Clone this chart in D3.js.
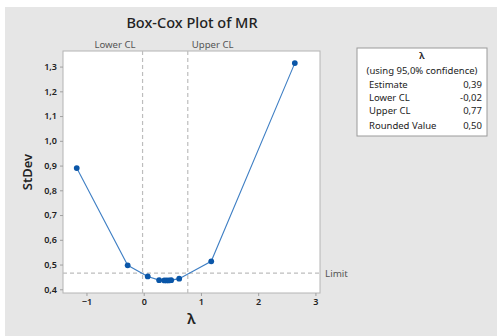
<!DOCTYPE html>
<html>
<head>
<meta charset="utf-8">
<script src="https://cdn.jsdelivr.net/npm/d3@7"></script>
<style>
  body { margin: 0; background: #fff; }
  svg { display: block; font-family: "Noto Sans", "Open Sans", sans-serif; }
</style>
</head>
<body>
<script>
// lambda values tried and the StDev of the transformed data
const lambdas = [-1.17, -0.28, 0.07, 0.27, 0.36, 0.40, 0.44, 0.48, 0.62, 1.18, 2.64];
const stdevs  = [0.890, 0.497, 0.452, 0.437, 0.436, 0.436, 0.436, 0.437, 0.443, 0.513, 1.314];
const lowerCL = -0.02;
const upperCL = 0.77;
const limitValue = 0.465;
const xTicks = [-1, 0, 1, 2, 3];
const yTicks = [0.4, 0.5, 0.6, 0.7, 0.8, 0.9, 1.0, 1.1, 1.2, 1.3];
const tableRows = [
  ["Estimate", "0,39"],
  ["Lower CL", "-0,02"],
  ["Upper CL", "0,77"],
  ["Rounded Value", "0,50"]
];

const w = 497, h = 336;
const plot = {left: 63, top: 51, right: 320, bottom: 293};

const loc = d3.formatLocale({decimal: ",", thousands: ".", grouping: [3], currency: ["", ""]});
const fmt1 = loc.format(".1f");

const svg = d3.select("body").append("svg")
  .attr("width", w).attr("height", h);

// grey frame
svg.append("rect")
  .attr("x", 5).attr("y", 7)
  .attr("width", w - 5).attr("height", h - 7)
  .attr("fill", "#e6e6e6");

svg.append("text")
  .attr("x", 192).attr("y", 28)
  .attr("text-anchor", "middle")
  .attr("font-size", 14.5).attr("font-weight", 500)
  .attr("fill", "#222")
  .text("Box-Cox Plot of MR");

const x = d3.scaleLinear().domain([-1.41, 3.08]).range([plot.left, plot.right]);
const y = d3.scaleLinear().domain([0.385, 1.363]).range([plot.bottom, plot.top]);

svg.append("rect")
  .attr("x", plot.left).attr("y", plot.top)
  .attr("width", plot.right - plot.left).attr("height", plot.bottom - plot.top)
  .attr("fill", "#fff")
  .attr("stroke", "#b4b4b4");

const xAxis = svg.append("g")
  .attr("transform", "translate(0," + plot.bottom + ")")
  .call(d3.axisBottom(x).tickValues(xTicks).tickSize(3).tickPadding(3).tickFormat(d3.format("d")));
const yAxis = svg.append("g")
  .attr("transform", "translate(" + plot.left + ",0)")
  .call(d3.axisLeft(y).tickValues(yTicks).tickSize(3).tickPadding(3).tickFormat(fmt1));

[xAxis, yAxis].forEach(g => {
  g.select(".domain").remove();
  g.selectAll("line").attr("stroke", "#a0a0a0");
  g.selectAll("text").attr("font-size", 9).attr("fill", "#222")
    .attr("font-family", "Noto Sans").attr("font-weight", 600);
});

// confidence limits and limit line
const dashed = "4,3";
[lowerCL, upperCL].forEach(v => {
  svg.append("line")
    .attr("x1", x(v)).attr("x2", x(v))
    .attr("y1", plot.top).attr("y2", plot.bottom)
    .attr("stroke", "#bdbdbd").attr("stroke-width", 1.2)
    .attr("stroke-dasharray", dashed);
});
svg.append("line")
  .attr("x1", plot.left).attr("x2", plot.right)
  .attr("y1", y(limitValue)).attr("y2", y(limitValue))
  .attr("stroke", "#bdbdbd").attr("stroke-width", 1.2)
  .attr("stroke-dasharray", dashed);

svg.append("text")
  .attr("x", x(lowerCL) - 7).attr("y", 48)
  .attr("text-anchor", "end").attr("font-size", 9.6).attr("fill", "#555")
  .text("Lower CL");
svg.append("text")
  .attr("x", x(upperCL) + 4).attr("y", 48)
  .attr("text-anchor", "start").attr("font-size", 9.6).attr("fill", "#555")
  .text("Upper CL");
svg.append("text")
  .attr("x", plot.right + 5).attr("y", y(limitValue) + 3.5)
  .attr("font-size", 9.8).attr("fill", "#555")
  .text("Limit");

// the curve
const pts = lambdas.map((l, i) => [l, stdevs[i]]);
svg.append("path")
  .datum(pts)
  .attr("fill", "none")
  .attr("stroke", "#3f7fc4")
  .attr("stroke-width", 1.1)
  .attr("d", d3.line().x(d => x(d[0])).y(d => y(d[1])));

svg.selectAll("circle.pt")
  .data(pts)
  .enter()
  .append("circle")
  .attr("class", "pt")
  .attr("cx", d => x(d[0]))
  .attr("cy", d => y(d[1]))
  .attr("r", 2.9)
  .attr("fill", "#0a56a8");

// axis titles
svg.append("text")
  .attr("transform", "translate(32," + ((plot.top + plot.bottom) / 2) + ") rotate(-90)")
  .attr("text-anchor", "middle")
  .attr("font-size", 13).attr("font-weight", 600).attr("fill", "#222")
  .text("StDev");
svg.append("text")
  .attr("x", (plot.left + plot.right) / 2).attr("y", 324)
  .attr("text-anchor", "middle")
  .attr("font-size", 15).attr("font-weight", 600).attr("fill", "#222")
  .text("λ");

// table on the right
const box = {x: 357, y: 48, w: 130, h: 88};
svg.append("rect")
  .attr("x", box.x).attr("y", box.y)
  .attr("width", box.w).attr("height", box.h)
  .attr("fill", "#fff").attr("stroke", "#9a9a9a");

const fs = 9.5;
const cx = box.x + box.w / 2;
svg.append("text")
  .attr("x", cx).attr("y", 58.5)
  .attr("text-anchor", "middle").attr("font-size", fs).attr("font-weight", 600).attr("fill", "#222")
  .text("λ");
svg.append("text")
  .attr("x", cx).attr("y", 74)
  .attr("text-anchor", "middle").attr("font-size", fs).attr("fill", "#222")
  .text("(using 95,0% confidence)");

const rowY = [87.5, 101, 114, 129];
tableRows.forEach((r, i) => {
  svg.append("text")
    .attr("x", 369).attr("y", rowY[i])
    .attr("font-size", fs).attr("fill", "#222")
    .text(r[0]);
  svg.append("text")
    .attr("x", 482).attr("y", rowY[i])
    .attr("text-anchor", "end")
    .attr("font-size", fs).attr("fill", "#222")
    .text(r[1]);
});
</script>
</body>
</html>
